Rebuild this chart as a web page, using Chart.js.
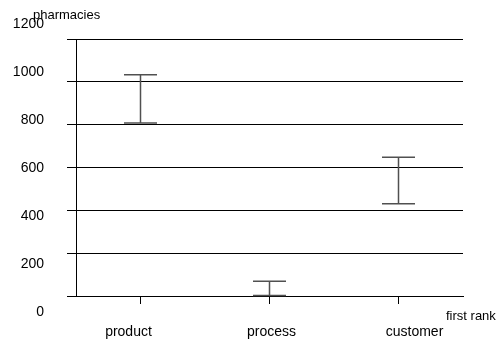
<!DOCTYPE html>
<html>
<head>
<meta charset="utf-8">
<script src="https://cdn.jsdelivr.net/npm/chart.js@4"></script>
<style>
  html, body { margin: 0; padding: 0; background: #fff; }
  canvas { display: block; }
</style>
</head>
<body>
<canvas id="c" width="496" height="341"></canvas>
<script>
// Ranges of pharmacies per first-rank category
const categories = ['product', 'process', 'customer'];
const lowValues  = [808, 0, 431];
const highValues = [1033, 69, 648];
const yTickValues = [0, 200, 400, 600, 800, 1000, 1200];
const yAxisTitle = 'pharmacies';
const xAxisTitle = 'first rank';

const FONT = "'Liberation Sans', Arial, sans-serif";
Chart.defaults.font.family = FONT;
Chart.defaults.color = '#000';

// Draws each range as an I-beam using the bar elements' scale positions
const rangeBars = {
  id: 'rangeBars',
  afterDatasetsDraw(chart) {
    const ctx = chart.ctx;
    const meta = chart.getDatasetMeta(0);
    ctx.save();
    ctx.strokeStyle = '#505050';
    ctx.lineWidth = 1.5;
    meta.data.forEach(bar => {
      const { x, y, base, width } = bar.getProps(['x', 'y', 'base', 'width'], true);
      const h = width / 2;
      ctx.beginPath();
      ctx.moveTo(x, y); ctx.lineTo(x, base);
      ctx.moveTo(x - h, y); ctx.lineTo(x + h, y);
      ctx.moveTo(x - h, base); ctx.lineTo(x + h, base);
      ctx.stroke();
    });
    ctx.restore();
  }
};

// Horizontal axis titles placed next to the plot area
const axisTitles = {
  id: 'axisTitles',
  afterDraw(chart) {
    const { ctx, chartArea } = chart;
    ctx.save();
    ctx.fillStyle = '#000';
    ctx.textBaseline = 'alphabetic';
    ctx.textAlign = 'left';
    ctx.font = '13px ' + FONT;
    ctx.fillText(yAxisTitle, chartArea.left - 43, chartArea.top - 20);
    ctx.fillText(xAxisTitle, chartArea.right - 17, chartArea.bottom + 24);
    ctx.restore();
  }
};

new Chart(document.getElementById('c'), {
  type: 'bar',
  data: {
    labels: categories,
    datasets: [{
      data: categories.map((_, i) => [lowValues[i], highValues[i]]),
      backgroundColor: 'rgba(0,0,0,0)',
      borderWidth: 0,
      barPercentage: 0.256,
      categoryPercentage: 1,
      xAxisID: 'x',
      yAxisID: 'y'
    }]
  },
  options: {
    responsive: false,
    devicePixelRatio: 1,
    animation: false,
    layout: { padding: { left: 0, top: 39, right: 33, bottom: 0 } },
    plugins: { legend: { display: false }, tooltip: { enabled: false } },
    scales: {
      // category axis: axis line and tick marks under each range
      x: {
        type: 'category',
        position: 'bottom',
        weight: 0,
        offset: true,
        grid: { display: true, drawOnChartArea: false, drawTicks: true, tickLength: 8, offset: false, color: '#000', lineWidth: 1 },
        border: { display: true, color: '#000', width: 1 },
        ticks: { display: false },
        afterFit(s) { s.height = 8; }
      },
      // category names, on their own wider spacing
      xl: {
        type: 'linear',
        position: 'bottom',
        weight: 1,
        offset: false,
        bounds: 'data',
        min: -0.367,
        max: 2.339,
        grid: { display: false, drawTicks: false, offset: false },
        border: { display: false },
        ticks: { autoSkip: false, maxRotation: 0, padding: 20, font: { size: 14 }, color: '#000', callback: v => categories[v] },
        afterBuildTicks(s) { s.ticks = categories.map((_, i) => ({ value: i })); },
        afterFit(s) { s.height = 37; }
      },
      y: {
        position: 'left',
        weight: 0,
        min: 0,
        max: 1200,
        ticks: { display: false, stepSize: 200 },
        grid: { color: '#000', lineWidth: 1, drawTicks: true, tickLength: 9 },
        border: { display: true, color: '#000', width: 1 },
        afterFit(s) { s.width = 9; }
      },
      yl: {
        type: 'linear',
        position: 'left',
        weight: 1,
        bounds: 'data',
        min: 66.67,
        max: 1137.5,
        grid: { display: false, drawTicks: false },
        border: { display: false },
        ticks: { autoSkip: false, padding: 23, font: { size: 14 }, color: '#000', callback: v => String(v) },
        afterBuildTicks(s) { s.ticks = yTickValues.map(v => ({ value: v })); },
        afterFit(s) { s.width = 67; }
      }
    }
  },
  plugins: [rangeBars, axisTitles]
});
</script>
</body>
</html>
